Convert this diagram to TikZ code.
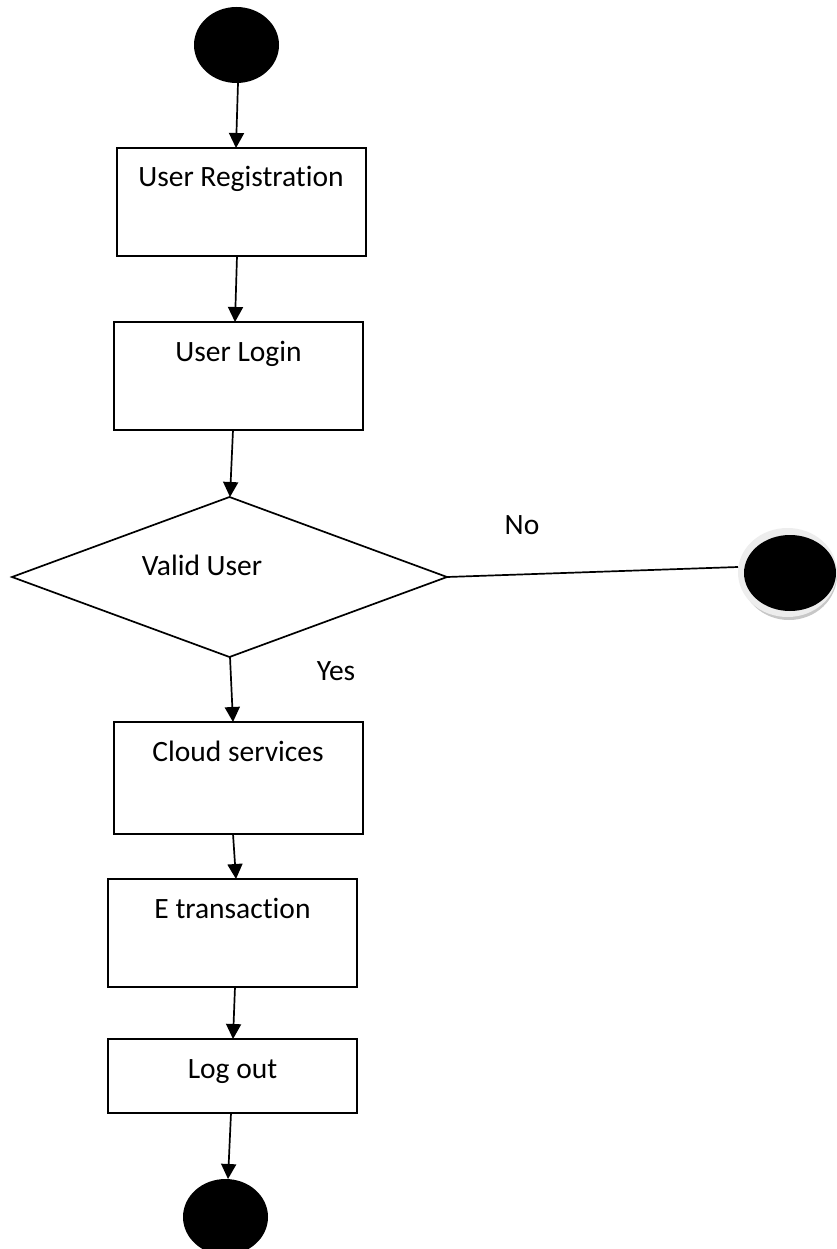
\documentclass[tikz,border=0pt]{standalone}
\usepackage{fontspec}
\setmainfont[Ligatures=NoCommon]{Carlito}
\usetikzlibrary{shapes.geometric,arrows.meta}
\begin{document}
\begin{tikzpicture}[x=1pt,y=-1pt,
  stepbox/.style={draw=black,line width=2pt,rectangle,inner sep=0pt,outer sep=0pt,minimum width=249pt},
  blob/.style={ellipse,fill=black,inner sep=0pt,outer sep=0pt,minimum width=85pt,minimum height=76pt},
  lbl/.style={anchor=base,inner sep=0pt,font=\fontsize{29.5pt}{34pt}\selectfont},
  arr/.style={line width=1.7pt,-{Triangle[width=15pt,length=15pt]}},
  conn/.style={line width=1.7pt}]
\useasboundingbox (0,0) rectangle (837,1249);
\fill[white] (0,0) rectangle (837,1249);

\node[blob] (start) at (236.5,45) {};
\node[stepbox,minimum height=108pt] (reg) at (241,202) {};
\node[lbl] (treg) at (241,187) {User Registration};
\node[stepbox,minimum height=108pt] (login) at (238.5,376) {};
\node[lbl] (tlogin) at (238.5,361) {User Login};
\node[diamond,draw=black,line width=1.7pt,inner sep=0pt,outer sep=0pt,minimum width=435pt,minimum height=160pt] (valid) at (229.5,577) {};
\node[lbl] (tvalid) at (202,575) {Valid User};
\node[stepbox,minimum height=112pt] (cloud) at (238.5,778) {};
\node[lbl] (tcloud) at (238,761) {Cloud services};
\node[stepbox,minimum height=108pt] (etr) at (232.5,933) {};
\node[lbl] (tetr) at (232.5,918) {E transaction};
\node[stepbox,minimum height=74pt] (logout) at (232.5,1076) {};
\node[lbl] (tlogout) at (232.5,1078) {Log out};
\node[blob] (finish) at (225.5,1217) {};

\node[ellipse,fill=black!22,inner sep=0pt,minimum width=96pt,minimum height=90pt] (noshadow) at (789,575) {};
\node[ellipse,fill=black!7,inner sep=0pt,outer sep=0pt,minimum width=99pt,minimum height=89pt] (noring) at (787.5,572.5) {};
\node[ellipse,fill=black,inner sep=0pt,minimum width=92pt,minimum height=76pt] (nostop) at (790,573) {};

\node[lbl] (tyes) at (336,680) {Yes};
\node[lbl] (tno) at (522,534) {No};

\draw[arr] ([xshift=1.5pt]start.south) -- ([xshift=-5pt]reg.north);
\draw[arr] ([xshift=-4pt]reg.south) -- ([xshift=-3.5pt]login.north);
\draw[arr] ([xshift=-5.5pt]login.south) -- ([xshift=0.5pt]valid.north);
\draw[arr] ([xshift=0.5pt]valid.south) -- ([xshift=-5.5pt]cloud.north);
\draw[arr] ([xshift=-5.5pt]cloud.south) -- ([xshift=3.5pt]etr.north);
\draw[arr] ([xshift=2.5pt]etr.south) -- ([xshift=0.5pt]logout.north);
\draw[arr] ([xshift=-1.5pt]logout.south) -- ([xshift=2.5pt]finish.north);
\draw[conn] (valid.east) -- ([yshift=5.5pt]noring.west);
\end{tikzpicture}
\end{document}
